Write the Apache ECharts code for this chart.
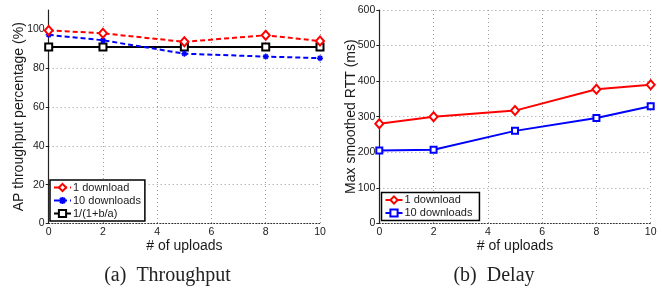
<!DOCTYPE html>
<html>
<head>
<meta charset="utf-8">
<script src="https://cdn.jsdelivr.net/npm/echarts@6/dist/echarts.min.js"></script>
<style>
html,body{margin:0;padding:0;background:#fff;}
#c{width:662px;height:289px;}
</style>
</head>
<body>
<div id="c"></div>
<script>
const xUploads = [0, 2, 5, 8, 10];
const tputOneDownload = [99.5, 98, 93.6, 97, 94];
const tputTenDownloads = [97.2, 94.4, 87.5, 86, 85.2];
const tputModel = [91, 91, 91, 91, 91];
const rttOneDownload = [280, 300, 317, 377, 390];
const rttTenDownloads = [205, 207, 260, 296, 329];
const tputTicks = [0, 20, 40, 60, 80, 100];
const xTicks = [0, 2, 4, 6, 8, 10];
const legendLeft = ['1 download', '10 downloads', '1/(1+b/a)'];
const legendRight = ['1 download', '10 downloads'];
const captions = ['(a)  Throughput', '(b)  Delay'];
const yNames = ['AP throughput percentage (%)', 'Max smoothed RTT (ms)'];
const xName = '# of uploads';

const pairs = arr => xUploads.map((x, i) => [x, arr[i]]);
const F = 'Liberation Sans';
const txt = '#1a1a1a';
const grid = { type: [1, 3], color: '#9a9a9a', width: 1 };

function xAxis(idx) {
  return {
    type: 'value', gridIndex: idx, min: 0, max: 10, interval: 2,
    name: xName, nameLocation: 'middle', nameGap: 15.5, nameMoveOverlap: false,
    nameTextStyle: { fontFamily: F, fontSize: 14, color: txt },
    axisLine: { show: true, onZero: false, lineStyle: { color: '#333', width: 1, type: [1, 2] } },
    axisTick: { show: false },
    axisLabel: { fontFamily: F, fontSize: 10.5, color: txt, margin: 3 },
    splitLine: { show: true, lineStyle: grid }
  };
}
const chart = echarts.init(document.getElementById('c'));
chart.setOption({
  animation: false,
  backgroundColor: '#fff',
  grid: [
    { left: 48.7, top: 10, width: 271.3, height: 213.5 },
    { left: 379.3, top: 10, width: 271.4, height: 213.3 }
  ],
  xAxis: [xAxis(0), xAxis(1)],
  yAxis: [
    {
      type: 'value', gridIndex: 0, min: 0, max: 110, interval: 20,
      name: yNames[0], nameLocation: 'middle', nameGap: 23, nameMoveOverlap: false,
      nameTextStyle: { fontFamily: F, fontSize: 14, color: txt },
      axisLine: { show: true, lineStyle: { color: '#222', width: 1.2 } },
      axisTick: { show: true, inside: false, length: 3, customValues: tputTicks, lineStyle: { color: '#222' } },
      axisLabel: { fontFamily: F, fontSize: 10.5, color: txt, margin: 4, customValues: tputTicks },
      splitLine: { show: true, showMaxLine: false, lineStyle: grid }
    },
    {
      type: 'value', gridIndex: 1, min: 0, max: 600, interval: 100,
      name: yNames[1], nameLocation: 'middle', nameGap: 21.5, nameMoveOverlap: false,
      nameTextStyle: { fontFamily: F, fontSize: 14, color: txt },
      axisLine: { show: true, lineStyle: { color: '#222', width: 1.2 } },
      axisTick: { show: true, inside: false, length: 3, lineStyle: { color: '#222' } },
      axisLabel: { fontFamily: F, fontSize: 10.5, color: txt, margin: 4 },
      splitLine: { show: true, lineStyle: grid }
    }
  ],
  legend: [
    {
      data: legendLeft, orient: 'vertical', left: 50, top: 180,
      itemWidth: 17, itemHeight: 9, itemGap: 2,
      padding: [2, 4, 2, 3],
      borderColor: '#000', borderWidth: 1.5, backgroundColor: '#fff',
      textStyle: { fontFamily: F, fontSize: 11, color: txt, padding: [0, 0, 0, -3] },
      selectedMode: false
    },
    {
      data: legendRight.map(n => n + ' '), orient: 'vertical', left: 381.5, top: 192.5,
      itemWidth: 17, itemHeight: 9, itemGap: 2,
      padding: [2, 4, 2, 3],
      borderColor: '#000', borderWidth: 1.5, backgroundColor: '#fff',
      textStyle: { fontFamily: F, fontSize: 11, color: txt, padding: [0, 0, 0, -3] },
      selectedMode: false
    }
  ],
  graphic: [
    { type: 'text', x: 167.5, y: 276, style: { text: captions[0], font: '20px "Liberation Serif"', fill: '#222', align: 'center', verticalAlign: 'middle', textAlign: 'center', textVerticalAlign: 'middle' } },
    { type: 'text', x: 494, y: 276, style: { text: captions[1], font: '20px "Liberation Serif"', fill: '#222', align: 'center', verticalAlign: 'middle', textAlign: 'center', textVerticalAlign: 'middle' } }
  ],
  series: [
    {
      name: legendLeft[2], type: 'line', xAxisIndex: 0, yAxisIndex: 0, data: pairs(tputModel),
      symbol: 'rect', symbolSize: 7, showAllSymbol: true,
      lineStyle: { color: '#000', width: 2 },
      itemStyle: { color: '#fff', borderColor: '#000', borderWidth: 2 }, z: 3
    },
    {
      name: legendLeft[1], type: 'line', xAxisIndex: 0, yAxisIndex: 0, data: pairs(tputTenDownloads),
      symbol: 'path://M5,0L5,10M0,5L10,5M1.5,1.5L8.5,8.5M1.5,8.5L8.5,1.5', symbolSize: 6,
      lineStyle: { color: '#0000ff', width: 2, type: [5, 3] },
      itemStyle: { color: '#0000ff', borderColor: '#0000ff', borderWidth: 1.5 }, z: 4
    },
    {
      name: legendLeft[0], type: 'line', xAxisIndex: 0, yAxisIndex: 0, data: pairs(tputOneDownload),
      symbol: 'diamond', symbolSize: [8, 9],
      lineStyle: { color: '#ff0000', width: 2, type: [5, 3] },
      itemStyle: { color: '#fff', borderColor: '#ff0000', borderWidth: 2 }, z: 5
    },
    {
      name: legendRight[0] + ' ', type: 'line', xAxisIndex: 1, yAxisIndex: 1, data: pairs(rttOneDownload),
      symbol: 'diamond', symbolSize: [8, 9],
      lineStyle: { color: '#ff0000', width: 2 },
      itemStyle: { color: '#fff', borderColor: '#ff0000', borderWidth: 2 }, z: 5
    },
    {
      name: legendRight[1] + ' ', type: 'line', xAxisIndex: 1, yAxisIndex: 1, data: pairs(rttTenDownloads),
      symbol: 'rect', symbolSize: 6,
      lineStyle: { color: '#0000ff', width: 2 },
      itemStyle: { color: '#fff', borderColor: '#0000ff', borderWidth: 2 }, z: 4
    }
  ]
});
</script>
</body>
</html>
